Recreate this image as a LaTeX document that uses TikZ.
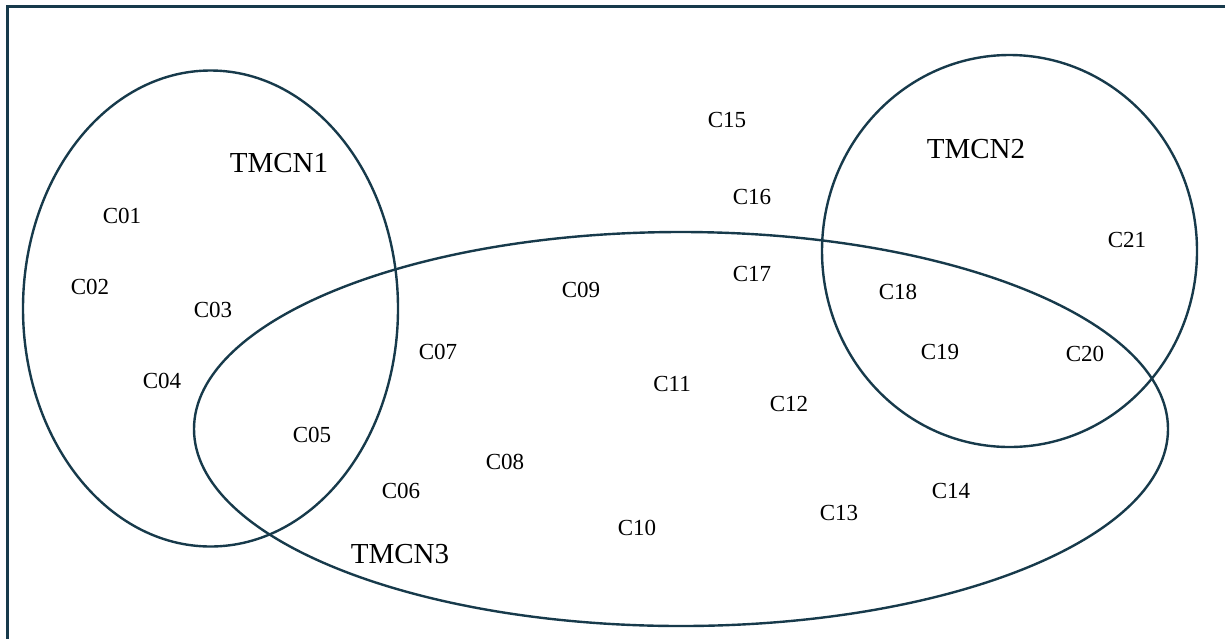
\documentclass[tikz,border=0pt]{standalone}
\usepackage{fontspec}
\setmainfont{Liberation Serif}
\usetikzlibrary{shapes.geometric}
\definecolor{edge}{HTML}{173A4B}
\tikzset{
  set/.style={draw=edge, line width=1.2pt},
  elem/.style={font=\fontsize{11.5}{13}\selectfont, inner sep=0pt},
  setlabel/.style={font=\fontsize{14.5}{17}\selectfont, inner sep=0pt},
  frame/.style={draw=edge, line width=1.5pt}
}
\begin{document}
\begin{tikzpicture}[x=0.5pt, y=-0.5pt]
\useasboundingbox (0,0) rectangle (1225,638);
\begin{scope}
\clip (0,0) rectangle (1225,638);
\coordinate (fb) at (7,650);
\coordinate (fc) at (7,6);
\coordinate (fr) at (1240,6);
\draw[frame] (fb) -- (fc) -- (fr);
\end{scope}
% sets
\draw[set] (210.5,308.5) ellipse [x radius=187.5, y radius=238];
\draw[set] (1009.5,251) ellipse [x radius=187.5, y radius=196];
\draw[set] (681,429) ellipse [x radius=487, y radius=197];
% set labels
\node[setlabel] (t1) at (279,163) {TMCN1};
\node[setlabel] (t2) at (976,149) {TMCN2};
\node[setlabel] (t3) at (400,554) {TMCN3};
% elements
\node[elem] (c01) at (122,216) {C01};
\node[elem] (c02) at (90,287) {C02};
\node[elem] (c03) at (213,310) {C03};
\node[elem] (c04) at (162,381) {C04};
\node[elem] (c05) at (312,435) {C05};
\node[elem] (c06) at (401,491) {C06};
\node[elem] (c07) at (438,352) {C07};
\node[elem] (c08) at (505,462) {C08};
\node[elem] (c09) at (581,290) {C09};
\node[elem] (c10) at (637,528) {C10};
\node[elem] (c11) at (672,384) {C11};
\node[elem] (c12) at (789,404) {C12};
\node[elem] (c13) at (839,513) {C13};
\node[elem] (c14) at (951,491) {C14};
\node[elem] (c15) at (727,120) {C15};
\node[elem] (c16) at (752,197) {C16};
\node[elem] (c17) at (752,274) {C17};
\node[elem] (c18) at (898,292) {C18};
\node[elem] (c19) at (940,352) {C19};
\node[elem] (c20) at (1085,354) {C20};
\node[elem] (c21) at (1127,240) {C21};
\end{tikzpicture}
\end{document}
